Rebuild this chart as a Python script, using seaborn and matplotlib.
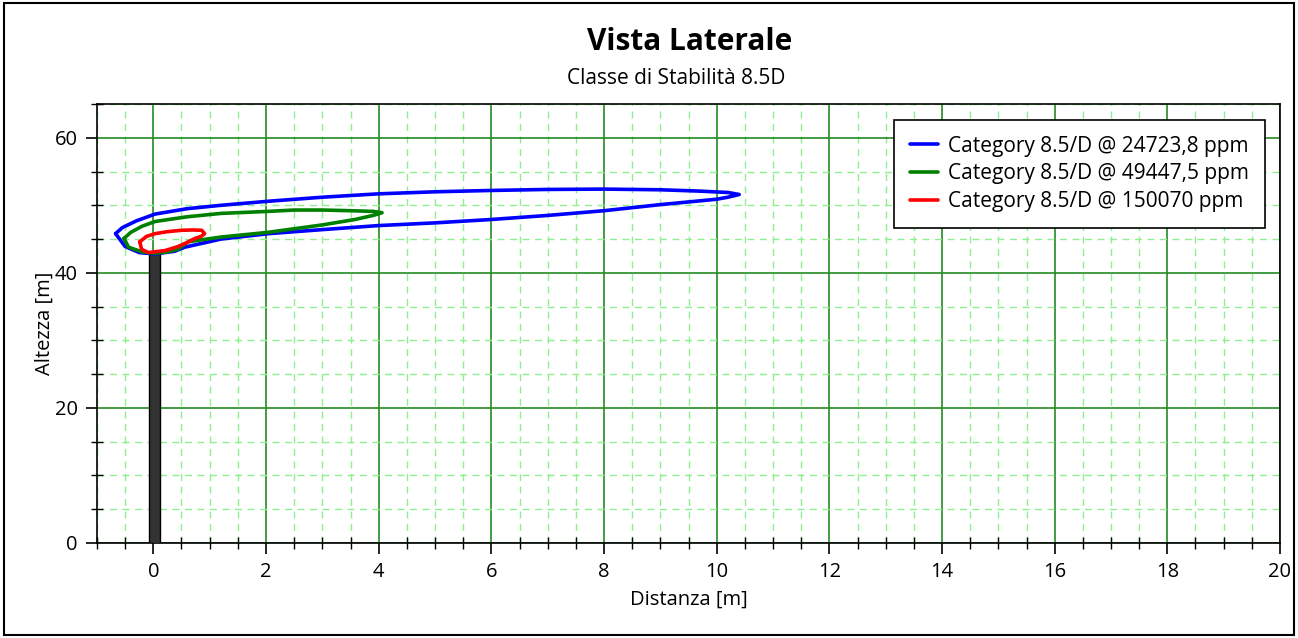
import numpy as np
import pandas as pd
import matplotlib
matplotlib.use("Agg")
import matplotlib.pyplot as plt
from matplotlib.patches import Rectangle
from matplotlib.ticker import MultipleLocator
import seaborn as sns

# contour outlines (x = distanza [m], y = altezza [m])
blue_x = [-0.67, -0.55, -0.3, 0.03, 0.6, 1.2, 2.04, 3.0, 4.0, 5.0, 6.0, 7.0, 8.0, 9.0, 9.7, 10.2, 10.4,
          10.2, 10.0, 9.0, 8.0, 7.0, 6.0, 5.0, 4.0, 3.0, 2.04, 1.2, 0.56, 0.38, 0.03, -0.25, -0.5, -0.67]
blue_y = [45.8, 46.7, 47.7, 48.7, 49.5, 50.0, 50.6, 51.2, 51.7, 52.0, 52.2, 52.35, 52.4, 52.3, 52.1, 51.9, 51.6,
          51.2, 50.9, 50.1, 49.2, 48.5, 47.9, 47.4, 47.0, 46.4, 45.8, 45.0, 43.8, 43.2, 42.8, 43.0, 43.9, 45.8]

green_x = [-0.52, -0.4, -0.2, 0.03, 0.6, 1.2, 2.04, 2.5, 3.0, 3.5, 3.9, 4.06,
           3.9, 3.58, 3.0, 2.04, 1.2, 0.62, 0.44, 0.25, 0.03, -0.2, -0.44, -0.52]
green_y = [45.1, 46.0, 46.9, 47.6, 48.3, 48.8, 49.1, 49.3, 49.3, 49.2, 49.1, 48.9,
           48.5, 47.9, 47.1, 46.0, 45.3, 44.6, 43.5, 43.1, 42.9, 43.1, 43.8, 45.1]

red_x = [-0.24, -0.12, 0.03, 0.25, 0.5, 0.7, 0.86, 0.91, 0.85, 0.74, 0.6, 0.44, 0.21, -0.09, -0.21, -0.24]
red_y = [44.6, 45.4, 45.8, 46.1, 46.3, 46.35, 46.3, 45.8, 45.4, 45.1, 44.5, 43.9, 43.3, 43.0, 43.5, 44.6]

labels = ["Category 8.5/D @ 24723,8 ppm",
          "Category 8.5/D @ 49447,5 ppm",
          "Category 8.5/D @ 150070 ppm"]
colors = ["#0000FF", "#008000", "#FF0000"]

stack_x = 0.02
stack_h = 43.0
stack_w = 0.2

frames = []
for lab, xs, ys in zip(labels, [blue_x, green_x, red_x], [blue_y, green_y, red_y]):
    frames.append(pd.DataFrame({"x": xs, "y": ys, "serie": lab}))
df = pd.concat(frames, ignore_index=True)

sns.set_style("white")
plt.rcParams["font.family"] = ["Open Sans", "DejaVu Sans"]
plt.rcParams["text.color"] = "black"
plt.rcParams["axes.labelcolor"] = "black"
plt.rcParams["xtick.color"] = "black"
plt.rcParams["ytick.color"] = "black"

fig = plt.figure(figsize=(12.98, 6.38), dpi=100)
ax = fig.add_axes([97 / 1298, 1 - 543 / 638, (1280 - 97) / 1298, (543 - 104) / 638])

# grid
ax.set_xlim(-1, 20)
ax.set_ylim(0, 65)
ax.xaxis.set_major_locator(MultipleLocator(2))
ax.xaxis.set_minor_locator(MultipleLocator(0.5))
ax.yaxis.set_major_locator(MultipleLocator(20))
ax.yaxis.set_minor_locator(MultipleLocator(5))
ax.grid(which="minor", color="#8FEF8F", linestyle=(0, (5, 4)), linewidth=1.0)
ax.grid(which="major", color="#228B22", linestyle="-", linewidth=1.2)
ax.set_axisbelow(True)

# stack
ax.bar([stack_x], [stack_h], width=stack_w, color="#333333", edgecolor="black", linewidth=1, zorder=3)

sns.lineplot(data=df, x="x", y="y", hue="serie", sort=False, estimator=None,
             palette=colors, linewidth=2.6, ax=ax, zorder=4)

leg = ax.legend(loc="upper right", bbox_to_anchor=(0.9873, 0.9636), borderaxespad=0,
                fontsize=15, frameon=True, fancybox=False, edgecolor="black", framealpha=1,
                handlelength=1.35, borderpad=0.75, labelspacing=0.32, handletextpad=0.5)
leg.get_frame().set_linewidth(1.2)
for line in leg.get_lines():
    line.set_linewidth(2.6)

for s in ax.spines.values():
    s.set_color("black")
    s.set_linewidth(1.2)

ax.tick_params(which="both", bottom=True, left=True, top=False, right=False)
ax.tick_params(which="major", direction="out", length=8, width=1.2, color="black",
               labelsize=14.5, pad=6)
ax.tick_params(which="minor", direction="inout", length=8, width=1, color="black")

ax.set_xlabel("Distanza [m]", fontsize=14.5, labelpad=5)
ax.set_ylabel("Altezza [m]", fontsize=14.5, labelpad=0)

fig.text(0.531, 1 - 42 / 638, "Vista Laterale", ha="center", va="center",
         fontsize=21.5, fontweight="bold")
fig.text(0.521, 1 - 78 / 638, "Classe di Stabilità 8.5D", ha="center", va="center",
         fontsize=15)

fig.patches.append(Rectangle((0.003, 0.004), 0.994, 0.992, transform=fig.transFigure,
                             fill=False, edgecolor="black", linewidth=1.5))

fig.savefig("out.png", dpi=100)
